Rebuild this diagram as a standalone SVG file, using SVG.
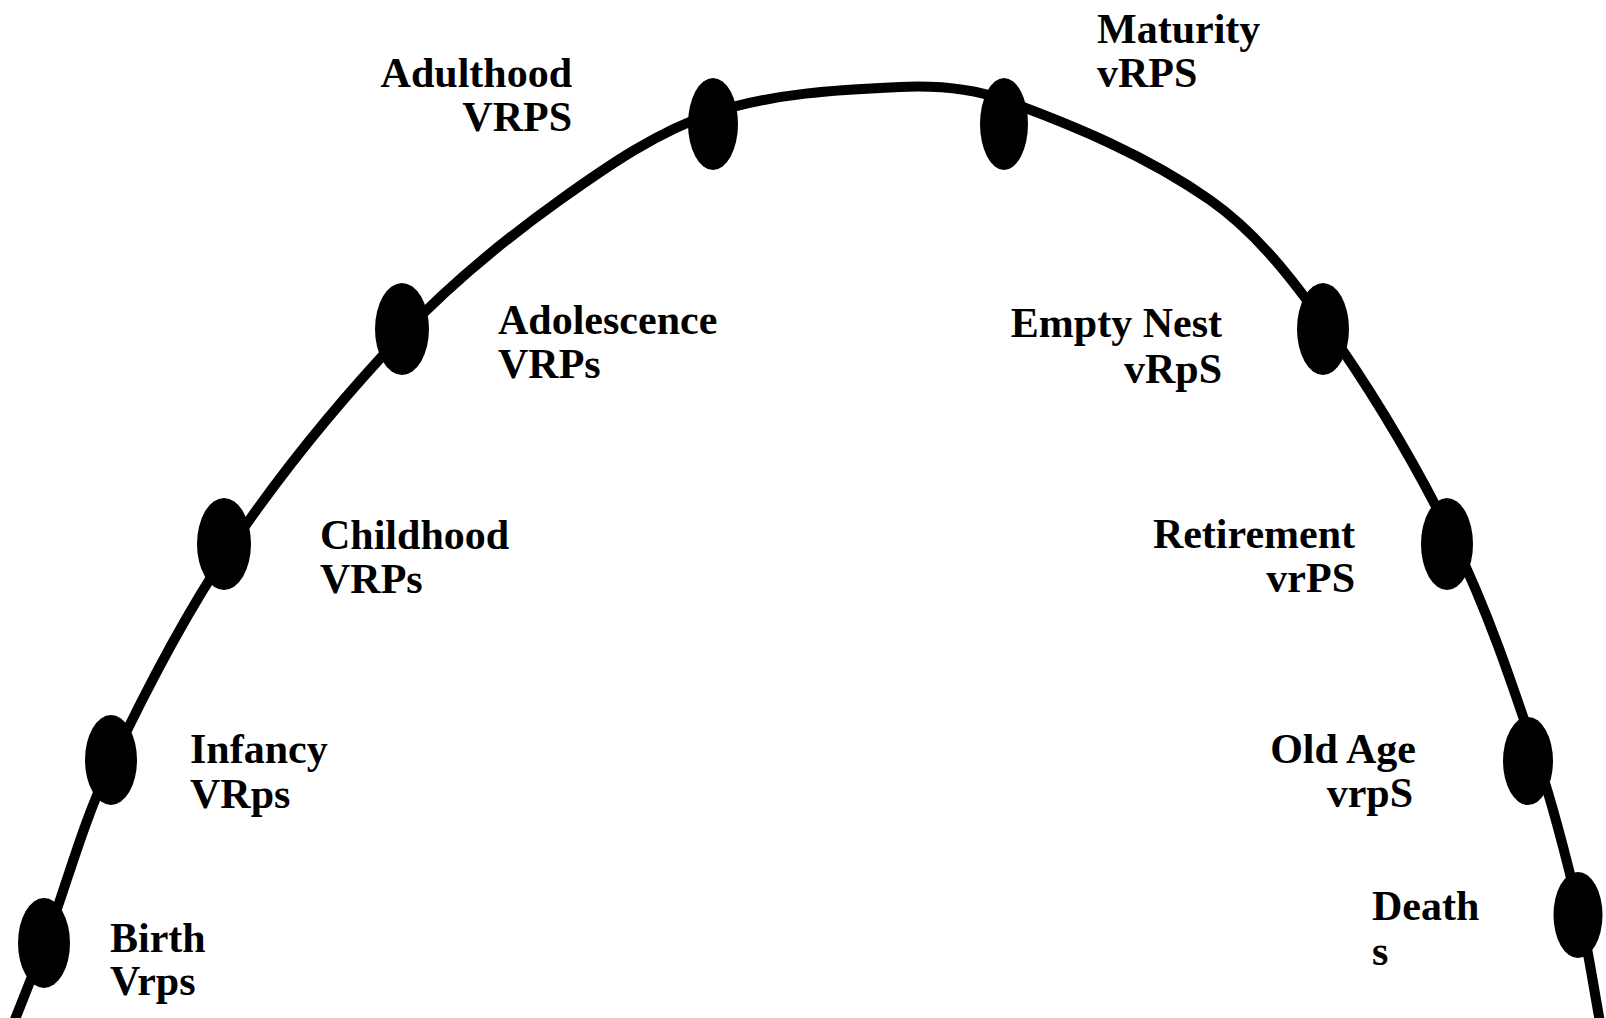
<svg xmlns="http://www.w3.org/2000/svg" width="1606" height="1018" viewBox="0 0 1606 1018">
<style>
.dot{fill:#000}
.lbl{font-family:"Liberation Serif","Times New Roman",serif;font-weight:bold;font-size:42px;fill:#000}
.r{text-anchor:end}
.curve{fill:none;stroke:#000;stroke-width:10;stroke-linecap:butt}
</style>
<rect width="1606" height="1018" fill="#fff"/>
<g id="connectors">
<path class="curve" d="M14,1022 C24.7,994.7 35.8,967.5 46,940 C67,883.5 82.4,824.6 108,770 C143.9,693.6 182.7,618 230,548 C281.1,472.3 339.2,401.3 402,335 C449.7,284.7 503.6,240.3 560,200 C607.8,165.9 657.3,131.5 713,113 C772.7,93.2 837.2,89.8 900,87 C934.9,85.4 971.2,88.1 1004,100 C1075.6,126.1 1147.5,156.2 1210,200 C1256.4,232.5 1292.2,278.9 1325,325 C1374.2,394.2 1417.7,467.7 1455,544 C1489,613.6 1513.3,687.6 1538,761 C1555,811.4 1567.7,863.2 1580,915 C1588.4,950.3 1593.3,986.3 1600,1022"/>
</g>
<g id="birth">
<ellipse class="dot" cx="44" cy="943" rx="26" ry="45"/>
<text class="lbl" x="110" y="952">Birth</text>
<text class="lbl" x="110" y="995">Vrps</text>
</g>
<g id="infancy">
<ellipse class="dot" cx="111" cy="760" rx="26" ry="45"/>
<text class="lbl" x="190" y="763">Infancy</text>
<text class="lbl" x="190" y="808">VRps</text>
</g>
<g id="childhood">
<ellipse class="dot" cx="224" cy="544" rx="27" ry="46"/>
<text class="lbl" x="320" y="549">Childhood</text>
<text class="lbl" x="320" y="593">VRPs</text>
</g>
<g id="adolescence">
<ellipse class="dot" cx="402" cy="329" rx="27" ry="46"/>
<text class="lbl" x="498" y="334">Adolescence</text>
<text class="lbl" x="498" y="378">VRPs</text>
</g>
<g id="adulthood">
<ellipse class="dot" cx="713" cy="124" rx="25" ry="46"/>
<text class="lbl r" x="572" y="87">Adulthood</text>
<text class="lbl r" x="572" y="131">VRPS</text>
</g>
<g id="maturity">
<ellipse class="dot" cx="1004" cy="124" rx="24" ry="46"/>
<text class="lbl" x="1097" y="43">Maturity</text>
<text class="lbl" x="1097" y="87">vRPS</text>
</g>
<g id="empty-nest">
<ellipse class="dot" cx="1323" cy="329" rx="26" ry="46"/>
<text class="lbl r" x="1222" y="337">Empty Nest</text>
<text class="lbl r" x="1222" y="383">vRpS</text>
</g>
<g id="retirement">
<ellipse class="dot" cx="1447" cy="544" rx="26" ry="46"/>
<text class="lbl r" x="1355" y="548">Retirement</text>
<text class="lbl r" x="1355" y="592">vrPS</text>
</g>
<g id="old-age">
<ellipse class="dot" cx="1528" cy="761" rx="25" ry="44"/>
<text class="lbl r" x="1416" y="763">Old Age</text>
<text class="lbl r" x="1413" y="807">vrpS</text>
</g>
<g id="death">
<ellipse class="dot" cx="1578" cy="915" rx="24.5" ry="43"/>
<text class="lbl" x="1372" y="920">Death</text>
<text class="lbl" x="1372" y="965">s</text>
</g>
</svg>
